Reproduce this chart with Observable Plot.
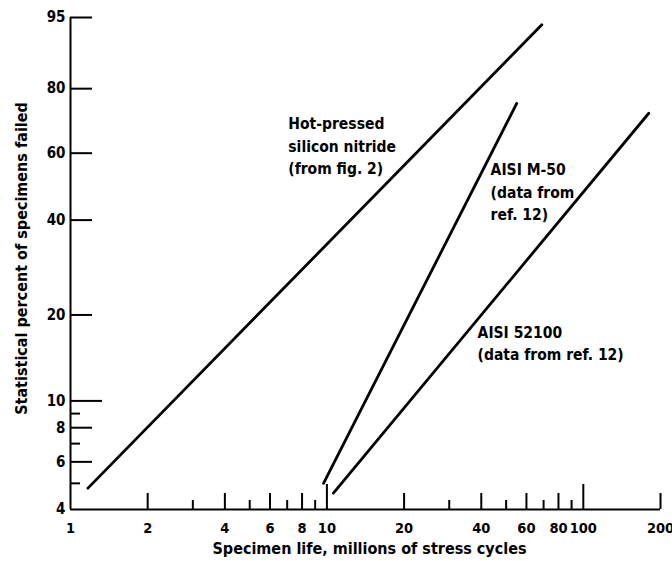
<!DOCTYPE html>
<html>
<head>
<meta charset="utf-8">
<script src="https://cdn.jsdelivr.net/npm/d3@7"></script>
<script src="https://cdn.jsdelivr.net/npm/@observablehq/plot@0.6"></script>
<style>
  html, body { margin: 0; padding: 0; background: #fff; }
  svg { display: block; }
</style>
</head>
<body>
<div id="chart"></div>
<script>
// ---- data ----
const siliconLife = [1.17, 68.9];
const siliconPct  = [4.8, 94.0];
const m50Life     = [9.7, 55.0];
const m50Pct      = [5.0, 75.7];
const b52100Life  = [10.6, 180];
const b52100Pct   = [4.6, 72.7];

const xTickLabels = [1, 2, 4, 6, 8, 10, 20, 40, 60, 80, 100, 200];
const xTicksMajor = [2, 4, 6, 8, 20, 40, 60, 80, 200];
const xTicksMinor = [3, 5, 7, 9, 30, 50, 70, 90];
const xTicksDecade = [10, 100];

const yTickLabels = [4, 6, 8, 10, 20, 40, 60, 80, 95];
const yTicksMajor = [6, 8, 20, 40, 60, 80, 95];
const yTicksMinor = [5, 7, 9];
const yTicksLong  = [10];

const labelTexts = ["Hot-pressed\nsilicon nitride\n(from fig. 2)", "AISI M-50\n(data from\nref. 12)", "AISI 52100\n(data from ref. 12)"];
const labelLife  = [7.07, 43.5, 38.7];
const labelPct   = [62.8, 48.4, 16.2];

const xTitle = "Specimen life, millions of stress cycles";
const yTitle = "Statistical percent of specimens failed";

// ---- build tables ----
const series = [
  ...siliconLife.map((l, i) => ({name: "Si3N4", life: l, pct: siliconPct[i]})),
  ...m50Life.map((l, i) => ({name: "M50", life: l, pct: m50Pct[i]})),
  ...b52100Life.map((l, i) => ({name: "52100", life: l, pct: b52100Pct[i]}))
];
const labels = labelTexts.map((t, i) => ({text: t, life: labelLife[i], pct: labelPct[i]}));

const weibull = p => Math.log(-Math.log(1 - p / 100));

const W = 672, H = 561;
const mL = 70, mR = 12, mT = 17, mB = 52;
const plotW = W - mL - mR, plotH = H - mT - mB;
const font = "'DejaVu Sans Condensed', 'Liberation Sans Narrow', sans-serif";

const chart = Plot.plot({
  width: W,
  height: H,
  marginLeft: mL,
  marginRight: mR,
  marginTop: mT,
  marginBottom: mB,
  style: {fontFamily: font, fontWeight: "bold", fontStretch: "condensed", fontSize: "15px", background: "#fff", color: "#000", overflow: "visible"},
  x: {type: "log", domain: [1, 200], axis: null},
  y: {type: "linear", transform: weibull, domain: [weibull(4), weibull(95)], axis: null},
  marks: [
    // axis lines
    Plot.ruleX([1], {stroke: "#000", strokeWidth: 2}),
    Plot.ruleY([4], {stroke: "#000", strokeWidth: 2}),
    // y ticks (pointing into the plot)
    Plot.tickY(yTicksMajor, {y: d => d, stroke: "#000", strokeWidth: 2, insetRight: plotW - 22}),
    Plot.tickY(yTicksMinor, {y: d => d, stroke: "#000", strokeWidth: 2, insetRight: plotW - 10}),
    Plot.tickY(yTicksLong,  {y: d => d, stroke: "#000", strokeWidth: 2, insetRight: plotW - 32}),
    // x ticks (pointing up)
    Plot.tickX(xTicksMajor,  {x: d => d, stroke: "#000", strokeWidth: 2, insetTop: plotH - 16}),
    Plot.tickX(xTicksMinor,  {x: d => d, stroke: "#000", strokeWidth: 2, insetTop: plotH - 9}),
    Plot.tickX(xTicksDecade, {x: d => d, stroke: "#000", strokeWidth: 2, insetTop: plotH - 25}),
    // tick labels
    Plot.text(yTickLabels, {y: d => d, text: d => String(d), frameAnchor: "left", dx: -5, textAnchor: "end", lineAnchor: "middle", fill: "#000", fontSize: 15}),
    Plot.text(xTickLabels, {x: d => d, text: d => String(d), frameAnchor: "bottom", dy: 19, textAnchor: "middle", lineAnchor: "middle", fill: "#000", fontSize: 14.5}),
    // axis titles
    Plot.text([xTitle], {text: d => d, frameAnchor: "bottom", dx: 4, dy: 39, textAnchor: "middle", lineAnchor: "middle", fill: "#000", fontSize: 16}),
    Plot.text([yTitle], {text: d => d, frameAnchor: "left", rotate: -90, dx: -49, dy: -5, textAnchor: "middle", lineAnchor: "middle", fill: "#000", fontSize: 16}),
    // data lines
    Plot.line(series, {x: "life", y: "pct", z: "name", stroke: "#000", strokeWidth: 2.8}),
    // annotations
    Plot.text(labels, {x: "life", y: "pct", text: "text", textAnchor: "start", lineAnchor: "middle", lineHeight: 1.45, fill: "#000", fontSize: 15.5})
  ]
});
document.getElementById("chart").appendChild(chart);
</script>
</body>
</html>
